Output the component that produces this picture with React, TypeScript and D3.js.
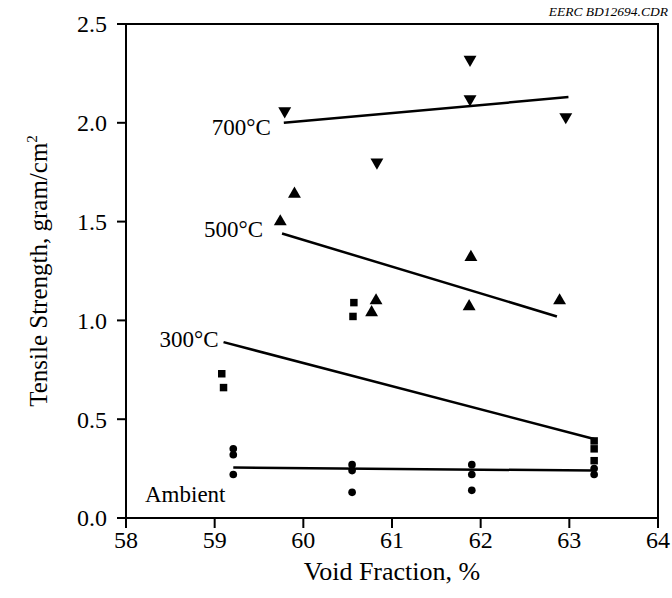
import React from "react";
import * as d3 from "d3";

// Void fraction (%) vs tensile strength (gram/cm2)
const ambientPts: [number, number][] = [
	[59.21, 0.35], [59.21, 0.32], [59.21, 0.22],
	[60.55, 0.27], [60.55, 0.24], [60.55, 0.13],
	[61.9, 0.27], [61.9, 0.22], [61.9, 0.14],
	[63.28, 0.25], [63.28, 0.22],
];
const c300Pts: [number, number][] = [
	[59.08, 0.73], [59.1, 0.66],
	[60.57, 1.09], [60.56, 1.02],
	[63.28, 0.39], [63.28, 0.35], [63.28, 0.29],
];
const c500Pts: [number, number][] = [
	[59.74, 1.5], [59.9, 1.64],
	[60.82, 1.1], [60.77, 1.04],
	[61.89, 1.32], [61.87, 1.07],
	[62.89, 1.1],
];
const c700Pts: [number, number][] = [
	[59.79, 2.06], [60.83, 1.8],
	[61.88, 2.32], [61.88, 2.12],
	[62.96, 2.03],
];

// fitted lines, end points
const ambientFit: [number, number][] = [[59.21, 0.255], [63.28, 0.24]];
const c300Fit: [number, number][] = [[59.1, 0.89], [63.28, 0.4]];
const c500Fit: [number, number][] = [[59.76, 1.44], [62.86, 1.02]];
const c700Fit: [number, number][] = [[59.78, 2.0], [62.99, 2.13]];

const xTicks = [58, 59, 60, 61, 62, 63, 64];
const yTicks = [0, 0.5, 1.0, 1.5, 2.0, 2.5];

const W = 672;
const H = 598;
const margin = { top: 24, right: 14, bottom: 80, left: 126 };
const FONT = "'Liberation Serif', 'Times New Roman', serif";

export default function App() {
	const x = d3.scaleLinear().domain([58, 64]).range([margin.left, W - margin.right]);
	const y = d3.scaleLinear().domain([0, 2.5]).range([H - margin.bottom, margin.top]);
	const line = d3
		.line<[number, number]>()
		.x((d) => x(d[0]))
		.y((d) => y(d[1]));

	const tri = d3.symbol().type(d3.symbolTriangle).size(72)() as string;
	const sq = d3.symbol().type(d3.symbolSquare).size(56)() as string;
	const circ = d3.symbol().type(d3.symbolCircle).size(46)() as string;

	const x0 = x(58);
	const x1 = x(64);
	const y0 = y(0);
	const y1 = y(2.5);

	const fits = [ambientFit, c300Fit, c500Fit, c700Fit];

	return (
		<svg
			width={W}
			height={H}
			style={{ position: "absolute", left: 0, top: 0, background: "#fff" }}
			fontFamily={FONT}
		>
			{/* frame */}
			<rect x={x0} y={y1} width={x1 - x0} height={y0 - y1} fill="none" stroke="#000" strokeWidth={2} />

			{/* y ticks */}
			{yTicks.map((t) => (
				<g key={"y" + t}>
					<line x1={x0 - 9} x2={x0} y1={y(t)} y2={y(t)} stroke="#000" strokeWidth={2} />
					<text x={x0 - 19} y={y(t)} dy="0.35em" textAnchor="end" fontSize={24}>
						{t.toFixed(1)}
					</text>
				</g>
			))}

			{/* x ticks */}
			{xTicks.map((t) => (
				<g key={"x" + t}>
					<line x1={x(t)} x2={x(t)} y1={y0} y2={y0 + 10} stroke="#000" strokeWidth={2} />
					<text x={x(t)} y={y0 + 30} textAnchor="middle" fontSize={24}>
						{t}
					</text>
				</g>
			))}

			{/* axis titles */}
			<text x={(x0 + x1) / 2} y={H - 18} textAnchor="middle" fontSize={26}>
				Void Fraction, %
			</text>
			<text
				transform={`translate(47,${(y0 + y1) / 2}) rotate(-90)`}
				textAnchor="middle"
				fontSize={25}
			>
				Tensile Strength, gram/cm
				<tspan fontSize={15} dy={-10}>2</tspan>
			</text>

			<text x={W - 4} y={16} textAnchor="end" fontSize={13.5} fontStyle="italic">
				EERC BD12694.CDR
			</text>

			{/* fitted lines */}
			{fits.map((f, i) => (
				<path key={"f" + i} d={line(f) as string} fill="none" stroke="#000" strokeWidth={2.5} />
			))}

			{/* series labels */}
			<text x={x(c700Fit[0][0]) - 13} y={y(c700Fit[0][1]) + 12} textAnchor="end" fontSize={23}>
				700°C
			</text>
			<text x={x(c500Fit[0][0]) - 19} y={y(c500Fit[0][1]) + 4} textAnchor="end" fontSize={23}>
				500°C
			</text>
			<text x={x(c300Fit[0][0]) - 5} y={y(c300Fit[0][1]) + 5} textAnchor="end" fontSize={23}>
				300°C
			</text>
			<text x={x(58) + 19} y={y(0) - 16} fontSize={23}>
				Ambient
			</text>

			{/* markers */}
			{c700Pts.map((d, i) => (
				<path key={"a" + i} d={tri} transform={`translate(${x(d[0])},${y(d[1])}) rotate(180)`} fill="#000" />
			))}
			{c500Pts.map((d, i) => (
				<path key={"b" + i} d={tri} transform={`translate(${x(d[0])},${y(d[1])})`} fill="#000" />
			))}
			{c300Pts.map((d, i) => (
				<path key={"c" + i} d={sq} transform={`translate(${x(d[0])},${y(d[1])})`} fill="#000" />
			))}
			{ambientPts.map((d, i) => (
				<path key={"d" + i} d={circ} transform={`translate(${x(d[0])},${y(d[1])})`} fill="#000" />
			))}
		</svg>
	);
}
